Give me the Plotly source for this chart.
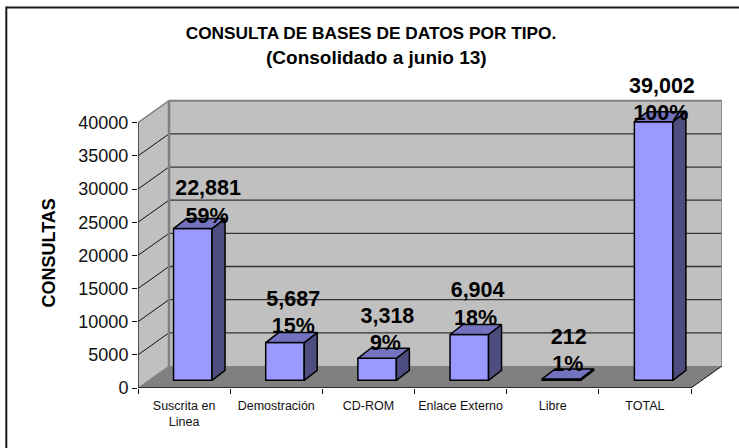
import plotly.graph_objects as go

categories = ["Suscrita en<br>Linea", "Demostración", "CD-ROM", "Enlace Externo", "Libre", "TOTAL"]
consultas = [22881, 5687, 3318, 6904, 212, 39002]
value_labels = ["22,881", "5,687", "3,318", "6,904", "212", "39,002"]
pct_labels = ["59%", "15%", "9%", "18%", "1%", "100%"]
y_ticks = [0, 5000, 10000, 15000, 20000, 25000, 30000, 35000, 40000]
y_tick_text = ["0", "5000", "10000", "15000", "20000", "25000", "30000", "35000", "40000"]

# pixel geometry of the oblique projection
L, R, T, B = 137.7, 721.7, 70.0, 387.7
W, H = 739, 448
CAT_PX = 92.17
Y_PX = 265.0 / 40000
DEPTH_X = 31 / CAT_PX
DEPTH_Y = 22 / Y_PX
YMAX = 40000
XMIN, XMAX = -0.5, 5.5

BAR_OFF_X = 8.7 / CAT_PX
BAR_BASE = 7.7 / Y_PX
BAR_W = 38.5 / CAT_PX
SIDE_X = 13 / CAT_PX
SIDE_Y = 10 / Y_PX

VAL_DX = [24, 17, 19, 17, 16, 17]
PCT_DX = [23, 17, 17, 15, 15, 16]
VAL_DY = [38.5, 41.5, 40.5, 42.5, 40.5, 34.5]
PCT_DY = [10.5, 14.5, 14, 14.5, 13, 7.5]

FONT = "Liberation Sans, Arial, sans-serif"
WALL = "#C0C0C0"
FLOOR = "#808080"
FRONT = "#9999FF"
TOP = "#7373BF"
SIDE = "#4D4D80"


def poly(xs, ys, fill, line="rgba(0,0,0,0)", w=0):
    path = "M " + " L ".join(f"{x},{y}" for x, y in zip(xs, ys)) + " Z"
    return dict(type="path", path=path, xref="x", yref="y", fillcolor=fill,
                line=dict(color=line, width=w), layer="below")


def seg(x0, y0, x1, y1, color, w):
    return dict(type="line", x0=x0, y0=y0, x1=x1, y1=y1, xref="x", yref="y",
                line=dict(color=color, width=w), layer="below")


def px_seg(x0, y0, x1, y1):
    sx = lambda p: (p - L) / (R - L)
    sy = lambda p: (B - p) / (B - T)
    return dict(type="line", x0=sx(x0), y0=sy(y0), x1=sx(x1), y1=sy(y1),
                xref="paper", yref="paper", line=dict(color="#1a1a1a", width=2))


bx, by = XMIN + DEPTH_X, DEPTH_Y
rx = XMAX + DEPTH_X
shapes = [
    poly([bx, rx, rx, bx], [by, by, by + YMAX, by + YMAX], WALL),
    poly([XMIN, bx, bx, XMIN], [0, by, by + YMAX, YMAX], WALL),
    poly([XMIN, XMAX, rx, bx], [0, 0, by, by], FLOOR),
]
for t in y_ticks[1:-1]:
    shapes.append(seg(bx, by + t, rx, by + t, "#333333", 1.3))
    shapes.append(seg(XMIN, t, bx, by + t, "#111111", 1))
shapes += [
    seg(bx, by + YMAX, rx, by + YMAX, FLOOR, 2),
    seg(bx, by, bx, by + YMAX, FLOOR, 2.5),
    seg(rx, by, rx, by + YMAX, FLOOR, 1.5),
    seg(XMIN, YMAX, bx, by + YMAX, FLOOR, 1.5),
    seg(XMAX, 0, rx, by, "#111111", 1),
    seg(XMIN, 0, bx, by, FLOOR, 1),
    seg(XMIN, 0, XMIN, YMAX, "#111111", 1.3),
    seg(XMIN, 0, XMAX, 0, "#111111", 1.5),
    px_seg(6, 7.5, 739, 7.5),
    px_seg(6, 6.5, 6, 448),
]

xs = list(range(len(categories)))
bar_x = [i + BAR_OFF_X for i in xs]

fig = go.Figure()
fig.add_trace(go.Bar(x=bar_x, y=consultas, base=[BAR_BASE] * 6, width=[BAR_W] * 6,
                     marker=dict(color=FRONT, line=dict(color="black", width=1.5)),
                     hoverinfo="skip", showlegend=False))

for i, v in zip(xs, consultas):
    x0 = bar_x[i] - BAR_W / 2
    x1 = bar_x[i] + BAR_W / 2
    y0 = BAR_BASE
    y1 = BAR_BASE + v
    fig.add_trace(go.Scatter(x=[x1, x1 + SIDE_X, x1 + SIDE_X, x1, x1],
                             y=[y0, y0 + SIDE_Y, y1 + SIDE_Y, y1, y0],
                             mode="lines", fill="toself", fillcolor=SIDE,
                             line=dict(color="black", width=1.5),
                             hoverinfo="skip", showlegend=False, cliponaxis=False))
    fig.add_trace(go.Scatter(x=[x0, x1, x1 + SIDE_X, x0 + SIDE_X, x0],
                             y=[y1, y1, y1 + SIDE_Y, y1 + SIDE_Y, y1],
                             mode="lines", fill="toself", fillcolor=TOP,
                             line=dict(color="black", width=1.5),
                             hoverinfo="skip", showlegend=False, cliponaxis=False))

label_font = dict(family=FONT, size=21.5, color="black", weight="bold")
fig.add_trace(go.Scatter(
    x=[i + d / CAT_PX for i, d in zip(xs, VAL_DX)],
    y=[BAR_BASE + v + d / Y_PX for v, d in zip(consultas, VAL_DY)],
    mode="text", text=value_labels, textposition="middle center", textfont=label_font,
    hoverinfo="skip", showlegend=False, cliponaxis=False))
fig.add_trace(go.Scatter(
    x=[i + d / CAT_PX for i, d in zip(xs, PCT_DX)],
    y=[BAR_BASE + v + d / Y_PX for v, d in zip(consultas, PCT_DY)],
    mode="text", text=pct_labels, textposition="middle center", textfont=label_font,
    hoverinfo="skip", showlegend=False, cliponaxis=False))

fig.update_layout(
    width=W, height=H, autosize=False,
    margin=dict(l=L, r=W - R, t=T, b=H - B, pad=0),
    paper_bgcolor="white", plot_bgcolor="white",
    font=dict(family=FONT, color="black"),
    showlegend=False,
    title=dict(text="<b>CONSULTA DE BASES DE DATOS POR TIPO.</b>",
               font=dict(family=FONT, size=17.3, color="black"),
               x=371 / W, xanchor="center", y=1 - 32.5 / H, yanchor="middle"),
    xaxis=dict(range=[XMIN, rx], tickmode="array", tickvals=xs, ticktext=categories,
               ticks="", showgrid=False, zeroline=False, showline=False,
               tickfont=dict(family=FONT, size=12.5, color="#111111"),
               ticklabelstandoff=8, tickangle=0,
               minor=dict(tickmode="array",
                          tickvals=[XMIN + k for k in range(7)],
                          ticks="outside", ticklen=5, tickcolor="#111111", tickwidth=1,
                          showgrid=False)),
    yaxis=dict(range=[0, (B - T) / Y_PX], tickmode="array", tickvals=y_ticks,
               ticktext=y_tick_text,
               ticks="outside", ticklen=5, tickcolor="#111111", tickwidth=1,
               showgrid=False, zeroline=False, showline=False,
               tickfont=dict(family=FONT, size=18, color="#111111")),
    shapes=shapes,
    annotations=[
        dict(text="<b>(Consolidado a junio 13)</b>", xref="paper", yref="paper",
             x=(376 - L) / (R - L), y=(B - 58) / (B - T), showarrow=False,
             xanchor="center", yanchor="middle",
             font=dict(family=FONT, size=19, color="black")),
        dict(text="<b>CONSULTAS</b>", xref="paper", yref="paper", textangle=-90,
             x=(49 - L) / (R - L), y=(B - 253) / (B - T), showarrow=False,
             xanchor="center", yanchor="middle",
             font=dict(family=FONT, size=18, color="black")),
    ],
)
fig.write_html("out.html", post_script="document.body.style.margin='0';",
               config=dict(displayModeBar=False))
